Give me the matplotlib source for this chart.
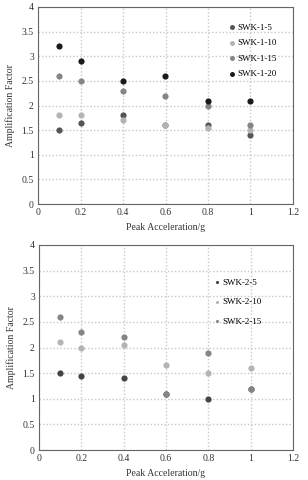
import matplotlib.pyplot as plt
import numpy as np

plt.rcParams['font.family'] = ['Liberation Serif', 'DejaVu Serif']

pga = [0.1, 0.2, 0.4, 0.6, 0.8, 1.0]

# group 1
swk_1_5 = [1.5, 1.65, 1.8, 1.6, 1.6, 1.4]
swk_1_10 = [1.8, 1.8, 1.7, 1.6, 1.55, 1.5]
swk_1_15 = [2.6, 2.5, 2.3, 2.2, 2.0, 1.6]
swk_1_20 = [3.2, 2.9, 2.5, 2.6, 2.1, 2.1]
labels_1 = ['SWK-1-5', 'SWK-1-10', 'SWK-1-15', 'SWK-1-20']

# group 2
swk_2_5 = [1.5, 1.45, 1.4, 1.1, 1.0, 1.2]
swk_2_10 = [2.1, 2.0, 2.05, 1.65, 1.5, 1.6]
swk_2_15 = [2.6, 2.3, 2.2, 1.1, 1.9, 1.2]
labels_2 = ['SWK-2-5', 'SWK-2-10', 'SWK-2-15']

colors_1 = ['#555555', '#b4b4b4', '#858585', '#1a1a1a']
colors_2 = ['#444444', '#b4b4b4', '#858585']

fig = plt.figure(figsize=(3.08, 4.8), dpi=100)
ax1 = fig.add_axes([38 / 308, 1 - 204 / 480, 255 / 308, 197 / 480])
ax2 = fig.add_axes([39 / 308, 1 - 450 / 480, 254 / 308, 205 / 480])


def style(ax):
    ax.set_xlim(0, 1.2)
    ax.set_ylim(0, 4)
    ax.set_xticks(np.arange(0, 1.21, 0.2))
    ax.set_yticks(np.arange(0, 4.01, 0.5))
    ax.set_xticklabels(['0', '0.2', '0.4', '0.6', '0.8', '1', '1.2'])
    ax.set_yticklabels(['0', '0.5', '1', '1.5', '2', '2.5', '3', '3.5', '4'])
    ax.tick_params(length=0, labelsize=7, colors='#333333', pad=3)
    ax.grid(True, linestyle=(0, (1, 1.5)), color='#c8c8c8', linewidth=1.0)
    ax.set_axisbelow(True)
    for s in ax.spines.values():
        s.set_color('#666666')
        s.set_linewidth(0.8)
    ax.set_xlabel('Peak Acceleration/g', fontsize=7, color='#333333', labelpad=4)
    ax.set_ylabel('Amplification Factor', fontsize=7, color='#333333', labelpad=5)


for ys, c, lab in zip([swk_1_5, swk_1_10, swk_1_15, swk_1_20], colors_1, labels_1):
    ax1.scatter(pga, ys, s=20, color=c, label=lab, zorder=3, linewidths=0)
style(ax1)
ax1.legend(loc='upper left', bbox_to_anchor=(0.73, 0.935), frameon=False,
           fontsize=6.5, handletextpad=0.05, labelspacing=0.8, markerscale=0.8,
           borderaxespad=0, handlelength=1.0)

for ys, c, lab in zip([swk_2_5, swk_2_10, swk_2_15], colors_2, labels_2):
    ax2.scatter(pga, ys, s=20, color=c, label=lab, zorder=3, linewidths=0)
style(ax2)
ax2.legend(loc='upper left', bbox_to_anchor=(0.67, 0.855), frameon=False,
           fontsize=6.5, handletextpad=0.05, labelspacing=1.25, markerscale=0.5,
           borderaxespad=0, handlelength=1.0)

fig.savefig('out.png', dpi=100)
